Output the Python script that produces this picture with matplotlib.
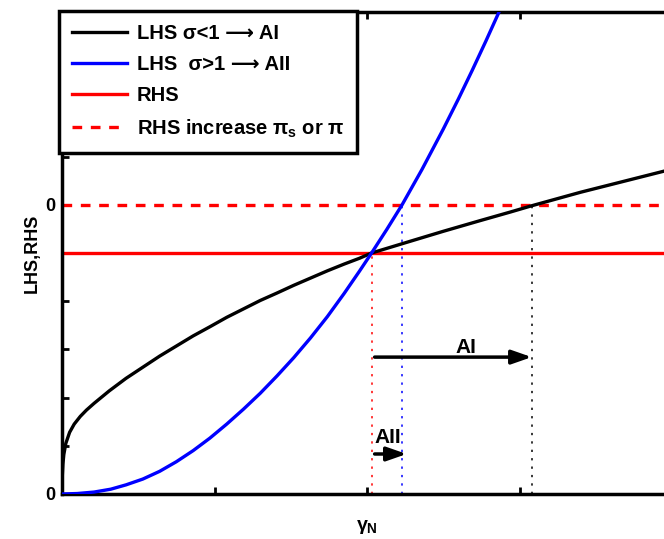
# sketch of LHS/RHS equilibrium diagram
import matplotlib
matplotlib.use("Agg")
import matplotlib.pyplot as plt

plt.rcParams['font.family'] = ['Liberation Sans', 'DejaVu Sans']
plt.rcParams['font.weight'] = 'bold'
plt.rcParams['mathtext.fontset'] = 'custom'
plt.rcParams['mathtext.rm'] = 'Liberation Sans'
plt.rcParams['mathtext.it'] = 'Liberation Sans'
plt.rcParams['mathtext.bf'] = 'Liberation Sans:bold'

# LHS, sigma < 1 (concave)
black_x = [0.0, 0.002, 0.006, 0.012, 0.025, 0.05, 0.08, 0.12, 0.16, 0.21, 0.31, 0.42,
           0.53, 0.64, 0.75, 0.86, 0.97, 1.08, 1.19, 1.30, 1.41, 1.52, 1.63, 1.74,
           1.85, 1.95, 2.03, 2.28, 2.50, 2.74, 2.94, 3.08, 3.40, 3.70, 3.95, 4.0]
black_y = [0.0, 0.38, 0.62, 0.82, 1.05, 1.28, 1.45, 1.61, 1.74, 1.88, 2.14, 2.40,
           2.63, 2.86, 3.07, 3.28, 3.47, 3.665, 3.84, 4.015, 4.17, 4.33, 4.48, 4.63,
           4.77, 4.89, 5.0, 5.24, 5.45, 5.67, 5.85, 5.98, 6.26, 6.50, 6.70, 6.74]

# LHS, sigma > 1 (convex)
blue_x = [0.0, 0.10, 0.21, 0.32, 0.42, 0.53, 0.64, 0.75, 0.86, 0.97, 1.08, 1.19, 1.30,
          1.41, 1.52, 1.63, 1.74, 1.85, 1.95, 2.03, 2.13, 2.23, 2.36, 2.50, 2.60, 2.69,
          2.78, 2.87, 2.95]
blue_y = [0.0, 0.01, 0.04, 0.10, 0.19, 0.31, 0.47, 0.67, 0.90, 1.16, 1.45, 1.76, 2.09,
          2.45, 2.83, 3.24, 3.68, 4.16, 4.62, 5.0, 5.49, 6.0, 6.73, 7.57, 8.20, 8.79,
          9.40, 10.03, 10.6]

rhs = 5.0
rhs_up = 6.0

x_eq = 2.03   # old equilibrium
x_AII = 2.23  # new equilibrium sigma > 1
x_AI = 3.08   # new equilibrium sigma < 1

arrow_AI_y = 2.84
arrow_AII_y = 0.83

fig = plt.figure(figsize=(6.64, 5.39), dpi=100)
ax = fig.add_axes([62 / 664, 45 / 539, 610 / 664, 482 / 539])

ax.plot(black_x, black_y, color='black', lw=2.4, label='LHS σ<1 ⟶ AI', zorder=3)
ax.plot(blue_x, blue_y, color='blue', lw=2.4, label='LHS  σ>1 ⟶ AII', zorder=3)
ax.axhline(rhs, color='red', lw=2.4, label='RHS', zorder=2)
ax.axhline(rhs_up, color='red', lw=2.4, ls=(0, (2.9, 2.6)),
           label=r'RHS increase $\pi_\mathbf{s}$ or $\pi$', zorder=2)

dots = (0, (1.5, 4))
ax.plot([x_eq, x_eq], [0, rhs], color='red', lw=1.1, ls=dots)
ax.plot([x_AII, x_AII], [0, rhs_up], color='blue', lw=1.1, ls=dots)
ax.plot([x_AI, x_AI], [0, rhs_up], color='black', lw=1.1, ls=dots)

arrowprops = dict(arrowstyle='-|>,head_length=1.2,head_width=0.42', color='black', lw=2.5,
                  shrinkA=0, shrinkB=0)
ax.annotate('', xy=(x_AI, arrow_AI_y), xytext=(x_eq + 0.02, arrow_AI_y), arrowprops=arrowprops)
ax.annotate('', xy=(x_AII + 0.03, arrow_AII_y), xytext=(x_eq + 0.02, arrow_AII_y), arrowprops=arrowprops)
ax.text(2.65, 2.93, 'AI', fontsize=15, fontweight='bold', ha='center', va='baseline')
ax.text(x_eq + 0.02, 1.06, 'AII', fontsize=15, fontweight='bold', ha='left', va='baseline')

ax.set_xlim(0, 4)
ax.set_ylim(0, 10)
ax.set_xticks([0, 1, 2, 3, 4])
ax.set_xticklabels([])
ax.set_yticks(range(11))
ax.set_yticklabels(['0', '', '', '', '', '', '0', '', '', '', ''])
ax.tick_params(direction='in', length=5, width=2, labelsize=13, top=True, right=True, pad=5)
for s in ax.spines.values():
    s.set_linewidth(2.5)

ax.set_xlabel(r'$\gamma_\mathbf{N}$', fontsize=14, labelpad=12)
ax.set_ylabel('LHS,RHS', fontsize=13, fontweight='bold', labelpad=3)

leg = ax.legend(loc='upper left', bbox_to_anchor=(-3 / 610, 1 + 1 / 482), borderaxespad=0,
                fancybox=False, framealpha=1, edgecolor='black', fontsize=14.5,
                handlelength=2.75, handletextpad=0.45, labelspacing=0.6, borderpad=0.65)
leg.get_frame().set_linewidth(2.5)
for t in leg.get_texts():
    t.set_fontweight('bold')

fig.savefig('out.png', dpi=100)
